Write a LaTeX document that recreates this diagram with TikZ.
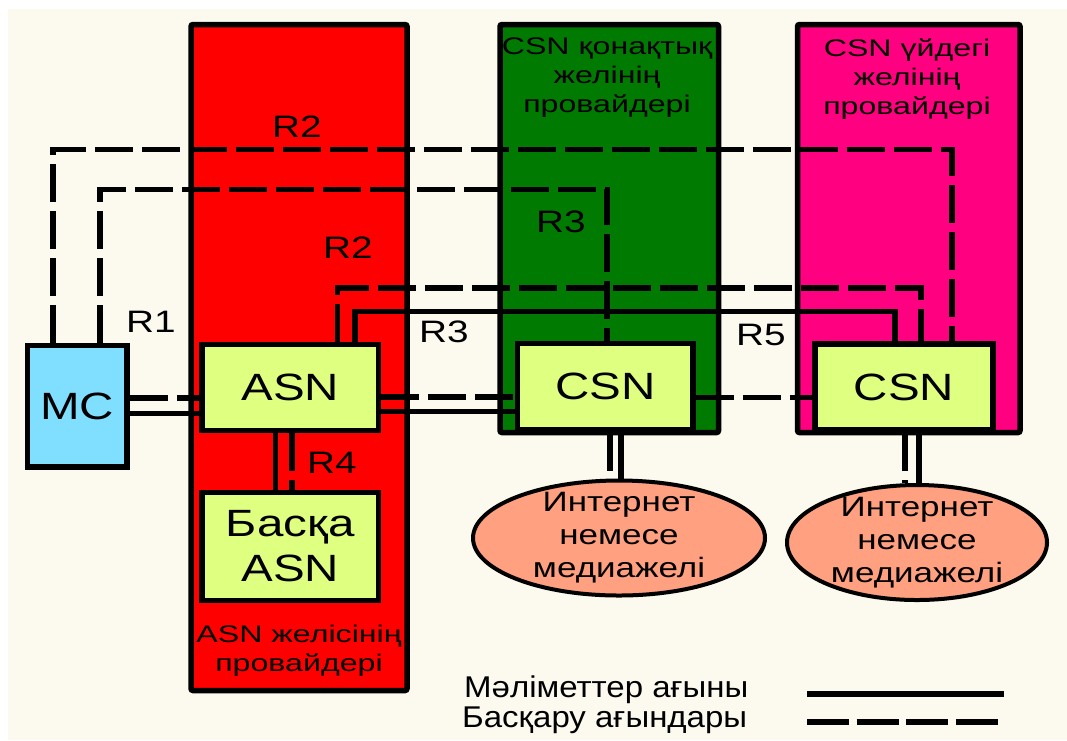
\documentclass[tikz,border=0pt]{standalone}
\usepackage{fontspec}
\setmainfont{Liberation Sans}[FakeStretch=1.25]
\newfontfamily\areafont{Liberation Sans}[FakeStretch=1.34]
\newfontfamily\legendfont{Liberation Sans}[FakeStretch=1.1]
\usetikzlibrary{shapes.geometric}

\definecolor{paper}{RGB}{252,250,238}
\definecolor{asnred}{RGB}{255,0,0}
\definecolor{guestgreen}{RGB}{0,122,0}
\definecolor{homepink}{RGB}{255,0,128}
\definecolor{nodefill}{RGB}{223,255,128}
\definecolor{mcblue}{RGB}{128,223,255}
\definecolor{netfill}{RGB}{255,160,128}

\pgfdeclarelayer{background}
\pgfsetlayers{background,main}

\tikzset{
  region/.style={draw, line width=5.5pt, inner sep=0pt, rounded corners=2pt},
  areatxt/.style={align=center, anchor=north, inner sep=0pt, font=\areafont\fontsize{24}{29}\selectfont},
  box/.style={draw, line width=5.5pt, fill=nodefill, inner sep=0pt, align=center, font=\fontsize{38}{45}\selectfont},
  net/.style={ellipse, draw, line width=4pt, fill=netfill, inner sep=0pt},
  nettxt/.style={align=center, inner sep=0pt, font=\fontsize{28}{33}\selectfont},
  reflbl/.style={inner sep=0pt, font=\fontsize{31}{36}\selectfont},
  legtxt/.style={inner sep=0pt, anchor=base west, font=\legendfont\fontsize{30}{36}\selectfont},
  dataflow/.style={line width=5.5pt},
  ctrlflow/.style={line width=5.5pt, dash pattern=on 38pt off 9pt}
}

\begin{document}
\begin{tikzpicture}[x=1pt, y=-1pt]
\useasboundingbox (0,0) rectangle (1067,740);

\node(mc)	[box, fill=mcblue, minimum width=99.5pt, minimum height=121.5pt] at (77.25,406.25)	{MC};
\node(asn)	[box, minimum width=176.5pt, minimum height=86pt] at (290.25,387.5)	{ASN};
\node(other)	[box, below of=asn, node distance=159pt, minimum width=176.5pt, minimum height=108pt]	{Басқа\\ASN};
\node(csng)	[box, minimum width=175.5pt, minimum height=86.5pt] at (605.25,386.75)	{CSN};
\node(csnh)	[box, minimum width=178pt, minimum height=86pt] at (904,387)	{CSN};

\node(netg)	[net, minimum width=292pt, minimum height=115pt,
	label={[nettxt]center:Интернет\\немесе\\медиажелі}] at (619,538) {};
\node(neth)	[net, minimum width=260pt, minimum height=115pt,
	label={[nettxt]center:Интернет\\немесе\\медиажелі}] at (917,542.5) {};

\node(lr2a)	[reflbl] at (297,127)	{R2};
\node(lr2b)	[reflbl] at (348,248)	{R2};
\node(lr1)	[reflbl] at (151,322)	{R1};
\node(lr3a)	[reflbl] at (444,332)	{R3};
\node(lr3b)	[reflbl] at (561,222)	{R3};
\node(lr4)	[reflbl] at (332,463)	{R4};
\node(lr5)	[reflbl] at (761,335)	{R5};

\node(legdata)	[legtxt] at (464,697)	{Мәліметтер ағыны};
\node(legctrl)	[legtxt] at (462,727)	{Басқару ағындары};
\coordinate (lda) at (807,694);
\coordinate (ldb) at (1004,694);
\coordinate (lca) at (807,722);
\coordinate (lcb) at (998,722);
\draw [dataflow] (lda) -- (ldb);
\draw [ctrlflow, dash pattern=on 42pt off 7.6pt] (lca) -- (lcb);

\begin{pgfonlayer}{background}
\fill [paper] (8,9) rectangle (1067,740);

\node(asnarea)	[region, fill=asnred, minimum width=216pt, minimum height=666pt] at (299,357.5) {};
\node(guestarea)	[region, fill=guestgreen, minimum width=218.5pt, minimum height=408pt] at (609.25,228.5) {};
\node(homearea)	[region, fill=homepink, minimum width=222.5pt, minimum height=408pt] at (908.75,228.5) {};

\node(asntxt)	[areatxt] at (299,625)	{ASN желісінің\\провайдері};
\node(guesttxt)	[areatxt] at (607,38)	{CSN қонақтық\\желінің\\провайдері};
\node(hometxt)	[areatxt] at (907,38)	{CSN үйдегі\\желінің\\провайдері};

\coordinate (r2a) at (53,149.5);
\coordinate (r2b) at (952,149.5);
\coordinate (r3a) at (100,189.5);
\coordinate (r3b) at (607,189.5);
\coordinate (a2a) at (337.5,288);
\coordinate (a2b) at (921,288);
\coordinate (a3a) at (355,311.5);
\coordinate (a3b) at (895,311.5);

\draw [ctrlflow] (mc.north -| r2a) |- (r2b) -- (r2b |- csnh.north);
\draw [ctrlflow] (mc.north -| r3a) |- (r3b) -- (r3b |- csng.north);
\draw [ctrlflow] (asn.north -| a2a) |- (a2b) -- (a2b |- csnh.north);
\draw [dataflow] (asn.north -| a3a) |- (a3b) -- (a3b |- csnh.north);

\foreach \a/\b/\y/\s in {mc/asn/398/ctrlflow, mc/asn/413.5/dataflow,
	asn/csng/397/ctrlflow, asn/csng/411.5/dataflow, csng/csnh/397.5/ctrlflow} {
	\draw [\s] (\a.east |- 0,\y) -- (\b.west |- 0,\y); }

\foreach \a/\b/\x/\s in {asn/other/275.5/dataflow, asn/other/292/ctrlflow,
	csng/netg/610/ctrlflow, csng/netg/621/dataflow,
	csnh/neth/905/ctrlflow, csnh/neth/919/dataflow} {
	\draw [\s] (\a.south -| \x,0) -- (\b.north -| \x,0); }
\end{pgfonlayer}

\end{tikzpicture}
\end{document}
